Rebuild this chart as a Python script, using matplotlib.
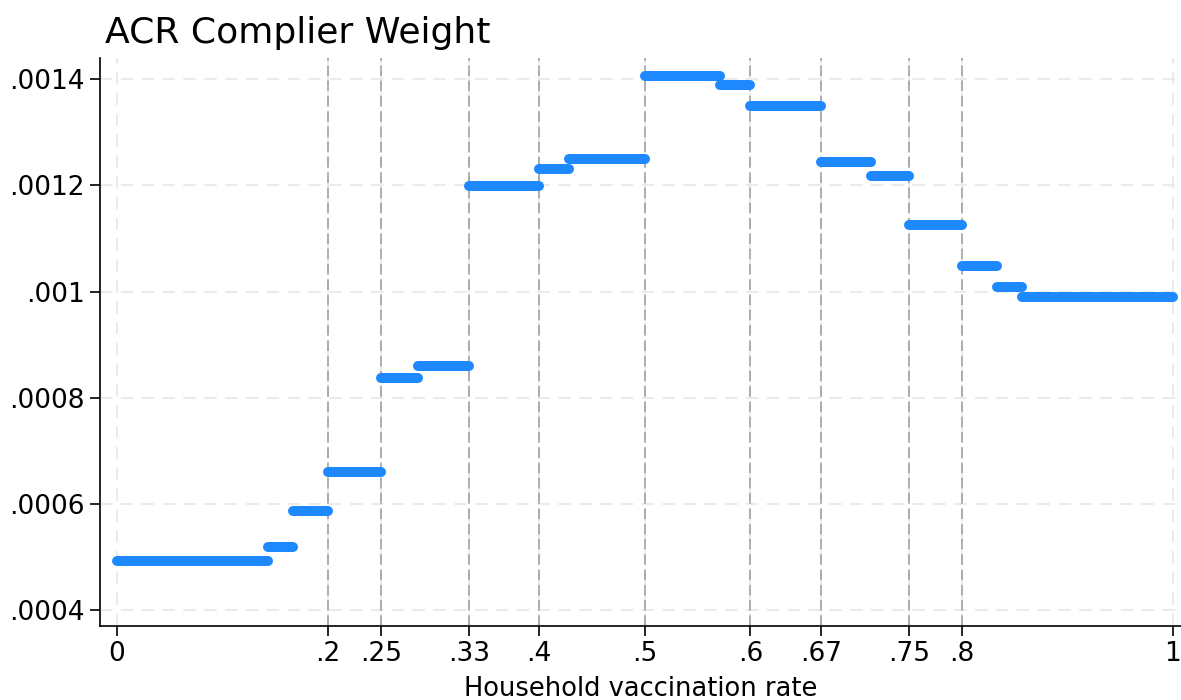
import matplotlib
matplotlib.use("Agg")
import matplotlib.pyplot as plt

plt.rcParams['font.family'] = ['DejaVu Sans']

# Data: bin edges (household vaccination rate) and weights
edges = [0, 1/7, 1/6, 1/5, 1/4, 2/7, 1/3, 2/5, 3/7, 1/2, 4/7, 3/5, 2/3, 5/7, 3/4, 4/5, 5/6, 6/7, 1]
weights = [0.000492, 0.000519, 0.000587, 0.000660, 0.000837, 0.000860, 0.001198,
           0.001231, 0.001249, 0.001406, 0.001389, 0.001349, 0.001244, 0.001217,
           0.001125, 0.001048, 0.001008, 0.000989]
ref_lines = [0.2, 0.25, 1/3, 0.4, 0.5, 0.6, 2/3, 0.75, 0.8]
xtick_vals = [0, 0.2, 0.25, 1/3, 0.4, 0.5, 0.6, 2/3, 0.75, 0.8, 1]
xtick_labels = ['0', '.2', '.25', '.33', '.4', '.5', '.6', '.67', '.75', '.8', '1']
ytick_vals = [0.0004, 0.0006, 0.0008, 0.0010, 0.0012, 0.0014]
ytick_labels = ['.0004', '.0006', '.0008', '.001', '.0012', '.0014']

fig = plt.figure(figsize=(11.81, 7.0), dpi=100)
ax = fig.add_axes([100/1181, 1-626/700, 1-100/1181, (626-58)/700])

ax.set_xlim(-0.0158, 1.0078)
ax.set_ylim(0.00037, 0.00144)

ax.set_xticks(xtick_vals)
ax.set_xticklabels(xtick_labels)
ax.set_yticks(ytick_vals)
ax.set_yticklabels(ytick_labels)
ax.tick_params(axis='both', labelsize=19, length=7, width=1.2, color='black', pad=4)

ax.grid(True, color='#ebebeb', linestyle=(0, (6, 4)), linewidth=1.5, zorder=0)
ax.set_axisbelow(True)

for x in ref_lines:
    ax.axvline(x, color='#9a9a9a', linestyle=(0, (7, 3)), linewidth=1.1, zorder=1)

for i, w in enumerate(weights):
    ax.plot([edges[i], edges[i+1]], [w, w], color='#1E88FF', linewidth=7.2,
            solid_capstyle='round', zorder=3)

for s in ['top', 'right']:
    ax.spines[s].set_visible(False)
for s in ['left', 'bottom']:
    ax.spines[s].set_linewidth(1.2)

ax.set_xlabel('Household vaccination rate', fontsize=18.5, labelpad=6)
fig.text(105/1181, 1-43/700, 'ACR Complier Weight', fontsize=26, ha='left', va='baseline')

fig.savefig('out.png', dpi=100)
